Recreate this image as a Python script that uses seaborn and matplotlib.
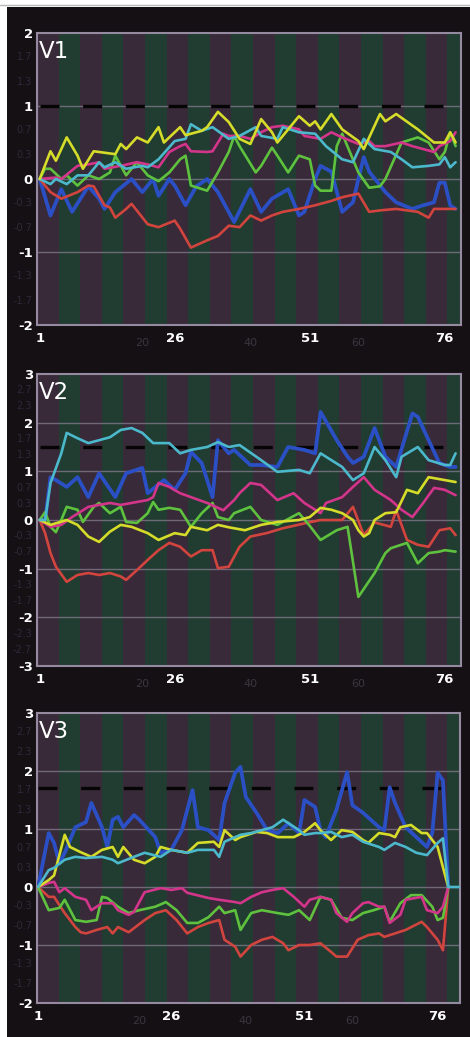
import numpy as np
import matplotlib
matplotlib.use("Agg")
import matplotlib.pyplot as plt
import matplotlib.transforms as mtransforms
from matplotlib.patches import Rectangle
import seaborn as sns

# ---------------- data ----------------
panel_titles = ["V1", "V2", "V3"]
x_major_ticks = [1, 26, 51, 76]
x_faint_ticks = [20, 40, 60]
ref_levels = [1.0, 1.5, 1.7]
y_limits = [(-2, 2), (-3, 3), (-2, 3)]
x_limits = [(0.5, 79), (0.5, 79), (0.8, 80.2)]

# V1
v1_yellow_x = [1,3,4,6,8,9,11,15,16,17,19,21,23,24,27,28,31,32,34,36,38,40,42,44,45,49,51,52,53,55,57,60,61,64,65,67,71,74,76,77,78]
v1_yellow_y = [0,0.38,0.25,0.57,0.32,0.14,0.38,0.34,0.48,0.41,0.57,0.5,0.71,0.5,0.71,0.6,0.66,0.71,0.92,0.78,0.55,0.48,0.82,0.64,0.5,0.86,0.73,0.79,0.68,0.89,0.68,0.52,0.41,0.89,0.79,0.89,0.68,0.5,0.5,0.64,0.5]
v1_pink_x = [1,4,5,8,10,12,13,16,19,21,23,25,27,28,29,32,33,35,36,38,40,42,44,46,49,50,53,55,57,60,62,63,65,68,70,72,74,75,77,78]
v1_pink_y = [0,0.02,0,0.18,0.2,0.23,0.14,0.18,0.23,0.2,0.16,0.37,0.45,0.48,0.38,0.37,0.38,0.62,0.59,0.59,0.55,0.64,0.71,0.73,0.68,0.59,0.55,0.64,0.57,0.48,0.52,0.45,0.45,0.5,0.45,0.41,0.37,0.45,0.52,0.64]
v1_cyan_x = [1,3,4,6,8,10,12,13,15,17,20,21,23,26,28,29,31,33,36,38,41,42,45,46,49,52,54,57,59,61,63,66,68,70,73,75,76,77,78]
v1_cyan_y = [0,-0.07,0,-0.07,0.05,0.05,0.23,0.16,0.23,0.14,0.18,0.16,0.27,0.52,0.55,0.75,0.66,0.71,0.55,0.59,0.71,0.59,0.55,0.71,0.64,0.62,0.45,0.27,0.23,0.55,0.41,0.37,0.27,0.16,0.18,0.2,0.3,0.16,0.23]
v1_green_x = [1,2,3,5,6,8,10,12,14,15,17,19,21,23,25,27,28,29,32,34,36,37,38,41,42,44,45,47,49,51,52,53,55,56,57,60,62,64,65,68,71,73,75,76,77,78]
v1_green_y = [0,0.14,0.14,0,0.05,-0.09,0.05,0,0.09,0.32,0.05,0.23,0.05,-0.03,0.09,0.27,0.32,-0.09,-0.16,0.09,0.37,0.59,0.45,0.09,0.18,0.43,0.32,0.09,0.32,0.27,-0.09,-0.16,-0.16,0.45,0.62,0.09,-0.12,-0.1,0,0.5,0.57,0.5,0.27,0.37,0.64,0.45]
v1_blue_x = [1,3,5,7,10,12,13,15,18,20,22,23,25,26,28,30,32,34,37,40,42,44,47,49,50,52,53,55,57,59,60,61,62,65,67,70,72,74,75,76,77,78]
v1_blue_y = [0,-0.5,-0.14,-0.45,-0.1,-0.27,-0.41,-0.18,0,-0.18,0,-0.23,0,-0.09,-0.36,-0.1,0,-0.18,-0.59,-0.14,-0.45,-0.27,-0.14,-0.5,-0.45,0,0.18,0.1,-0.45,-0.32,0,0.3,0.1,-0.18,-0.32,-0.41,-0.36,-0.32,-0.05,-0.05,-0.36,-0.41]
v1_red_x = [1,3,5,8,10,11,13,14,15,17,18,21,23,26,27,29,32,34,36,38,40,42,44,46,49,52,55,57,60,62,64,67,69,71,73,74,77,78]
v1_red_y = [0,-0.18,-0.27,-0.18,-0.09,-0.1,-0.36,-0.39,-0.53,-0.41,-0.34,-0.62,-0.66,-0.57,-0.68,-0.94,-0.84,-0.78,-0.64,-0.66,-0.5,-0.57,-0.5,-0.45,-0.41,-0.36,-0.3,-0.25,-0.2,-0.45,-0.43,-0.41,-0.43,-0.45,-0.53,-0.41,-0.41,-0.41]

# V2
v2_cyan_x = [1,2,3,5,6,8,10,12,14,16,18,20,22,25,27,29,32,34,36,38,42,45,49,51,53,57,59,61,63,65,67,68,71,73,76,77,78]
v2_cyan_y = [0,0,0.76,1.37,1.79,1.68,1.58,1.64,1.7,1.85,1.89,1.79,1.58,1.58,1.37,1.44,1.5,1.6,1.5,1.54,1.23,0.99,1.03,0.96,1.37,1.09,0.82,0.96,1.5,1.23,0.88,1.3,1.5,1.23,1.13,1.13,1.37]
v2_blue_x = [1,2,3,4,6,8,10,12,15,17,20,21,24,26,28,29,31,33,34,36,37,40,42,45,47,50,52,53,56,58,59,61,63,65,67,70,71,73,75,77,78]
v2_blue_y = [0,0,0.88,0.82,0.68,0.88,0.47,0.96,0.47,0.96,1.07,0.55,0.82,0.62,0.96,1.4,1.17,0.47,1.64,1.37,1.44,1.13,1.13,1.09,1.5,1.44,1.37,2.22,1.64,1.3,1.17,1.3,1.89,1.3,1.09,2.19,2.12,1.64,1.17,1.09,1.09]
v2_pink_x = [1,3,5,7,10,12,14,16,18,21,22,23,25,27,29,32,35,37,38,40,42,45,48,50,53,54,57,59,61,63,66,68,70,72,74,76,78]
v2_pink_y = [0,-0.14,-0.1,0.06,0.27,0.31,0.35,0.31,0.35,0.41,0.47,0.76,0.68,0.55,0.47,0.35,0.2,0.41,0.55,0.76,0.72,0.41,0.55,0.35,0.14,0.35,0.47,0.68,0.88,0.62,0.41,0.21,0.06,0.35,0.66,0.62,0.51]
v2_green_x = [1,2,3,4,5,6,8,9,11,12,14,16,17,19,21,22,23,25,27,29,31,33,34,36,37,40,42,45,49,51,53,56,58,60,63,65,66,69,71,73,75,76,78]
v2_green_y = [0,0.16,-0.14,-0.25,0,0.27,0.21,-0.04,0.27,0.35,0.14,0.27,-0.04,-0.06,0.14,0.37,0.21,0.25,0.21,-0.14,0.14,0.35,0.06,0,0.14,0.27,0,-0.1,0.14,-0.12,-0.41,-0.21,-0.14,-1.58,-1.09,-0.68,-0.58,-0.47,-0.89,-0.68,-0.65,-0.62,-0.65]
v2_yellow_x = [1,3,6,8,10,12,14,16,18,21,23,26,28,29,32,34,36,39,42,45,49,51,53,55,57,59,60,61,62,63,65,67,69,71,73,76,78]
v2_yellow_y = [0,-0.1,0,-0.1,-0.34,-0.45,-0.24,-0.1,-0.14,-0.27,-0.41,-0.27,-0.31,-0.14,-0.21,-0.1,-0.15,-0.21,-0.1,-0.04,0,0.06,0.25,0.21,0.14,0,-0.21,-0.34,-0.27,0,0.14,0.16,0.62,0.55,0.88,0.82,0.78]
v2_red_x = [1,2,3,4,6,8,10,12,14,16,17,19,21,23,25,27,29,31,33,34,36,38,40,43,46,50,53,57,59,61,63,66,67,69,71,73,75,77,78]
v2_red_y = [0,-0.27,-0.68,-0.96,-1.27,-1.13,-1.09,-1.13,-1.09,-1.16,-1.23,-1.03,-0.82,-0.62,-0.47,-0.55,-0.75,-0.62,-0.62,-0.99,-0.96,-0.55,-0.34,-0.27,-0.17,-0.07,0,0,0.27,-0.31,-0.05,-0.14,0.2,-0.41,-0.51,-0.55,-0.21,-0.17,-0.31]

# V3
v3_blue_x = [1,3,4,5,6,8,10,11,13,14,15,16,17,19,20,23,24,26,28,30,31,33,35,36,38,39,40,42,44,46,48,50,51,53,54,55,57,59,60,62,65,66,67,68,70,72,74,75,76,77,78]
v3_blue_y = [0,0.93,0.76,0.41,0.59,1.03,1.12,1.45,1.03,0.69,1.16,1.21,1.03,1.24,1.16,0.86,0.59,0.64,0.98,1.67,1.03,0.98,0.81,1.45,1.97,2.07,1.55,1.28,0.98,0.93,1.1,0.93,1.5,1.38,0.98,0.86,1.33,1.98,1.41,1.28,1.03,0.98,1.72,1.45,1.03,0.86,0.69,0.93,1.97,1.84,0]
v3_yellow_x = [1,3,4,6,7,9,11,13,15,16,17,19,21,23,24,26,29,31,34,35,36,38,39,42,44,46,49,51,53,54,56,58,60,62,63,65,67,68,69,71,73,74,76,77,78]
v3_yellow_y = [0,0.12,0.2,0.9,0.69,0.6,0.52,0.64,0.69,0.52,0.69,0.47,0.41,0.52,0.69,0.64,0.59,0.76,0.78,0.69,0.98,0.81,0.86,0.95,0.93,0.86,0.86,0.95,1.1,0.98,0.81,0.98,0.95,0.81,0.76,0.93,0.9,0.86,1.03,1.07,0.93,0.93,0.69,0.34,0]
v3_cyan_x = [1,3,4,6,8,10,13,15,16,19,21,24,26,29,31,34,35,36,39,41,43,45,47,48,50,51,53,54,56,58,60,62,65,66,68,70,72,74,76,77,78,80]
v3_cyan_y = [0,0.29,0.33,0.47,0.52,0.5,0.52,0.47,0.41,0.52,0.59,0.52,0.64,0.59,0.64,0.64,0.52,0.78,0.9,0.93,0.98,1.03,1.16,1.1,0.98,0.9,0.93,0.93,0.95,0.86,0.9,0.78,0.69,0.64,0.76,0.69,0.59,0.55,0.76,0.84,0,0]
v3_pink_x = [1,3,4,5,6,8,10,11,13,15,16,18,19,20,21,24,26,28,29,33,35,38,39,41,43,45,47,49,51,52,54,56,57,59,60,62,63,65,66,67,69,70,73,74,76,77,78]
v3_pink_y = [0,0.07,0.09,-0.09,-0.02,-0.17,-0.22,-0.4,-0.28,-0.28,-0.4,-0.48,-0.43,-0.26,-0.09,-0.02,-0.05,-0.02,-0.1,-0.19,-0.22,-0.26,-0.28,-0.17,-0.09,-0.05,-0.02,-0.17,-0.34,-0.22,-0.17,-0.22,-0.45,-0.6,-0.45,-0.28,-0.26,-0.34,-0.34,-0.62,-0.48,-0.22,-0.17,-0.4,-0.45,-0.34,0]
v3_green_x = [1,3,5,6,8,10,12,13,14,16,18,20,23,25,27,29,31,33,35,36,38,39,41,43,46,48,50,52,54,56,58,60,62,64,66,67,69,71,73,75,76,77,78]
v3_green_y = [0,-0.4,-0.36,-0.22,-0.57,-0.6,-0.57,-0.17,-0.19,-0.34,-0.45,-0.4,-0.34,-0.26,-0.4,-0.62,-0.62,-0.52,-0.34,-0.45,-0.4,-0.74,-0.45,-0.4,-0.45,-0.48,-0.4,-0.57,-0.17,-0.22,-0.53,-0.57,-0.45,-0.4,-0.34,-0.6,-0.28,-0.14,-0.14,-0.34,-0.57,-0.53,0]
v3_red_x = [1,3,4,6,8,9,10,12,14,15,16,18,19,21,23,25,27,29,31,33,35,36,38,39,41,43,45,47,48,50,52,54,56,57,59,61,63,65,66,68,70,73,74,76,77,78]
v3_red_y = [0,-0.17,-0.17,-0.45,-0.69,-0.78,-0.8,-0.74,-0.69,-0.8,-0.69,-0.78,-0.71,-0.57,-0.45,-0.4,-0.57,-0.8,-0.69,-0.62,-0.57,-0.91,-1.03,-1.2,-1.0,-0.91,-0.86,-0.97,-1.09,-1.0,-1.0,-0.97,-1.12,-1.2,-1.2,-0.91,-0.83,-0.8,-0.86,-0.8,-0.74,-0.6,-0.69,-0.91,-1.09,0]

# ---------------- styling ----------------
COL = {"yellow": "#d6dc2a", "pink": "#d2358a", "cyan": "#4cb8cc",
       "green": "#5ec23e", "blue": "#2b4fc4", "red": "#d2443e"}
panels = [
    [("blue", v1_blue_x, v1_blue_y), ("red", v1_red_x, v1_red_y), ("green", v1_green_x, v1_green_y),
     ("pink", v1_pink_x, v1_pink_y), ("cyan", v1_cyan_x, v1_cyan_y), ("yellow", v1_yellow_x, v1_yellow_y)],
    [("blue", v2_blue_x, v2_blue_y), ("red", v2_red_x, v2_red_y), ("green", v2_green_x, v2_green_y),
     ("pink", v2_pink_x, v2_pink_y), ("yellow", v2_yellow_x, v2_yellow_y), ("cyan", v2_cyan_x, v2_cyan_y)],
    [("blue", v3_blue_x, v3_blue_y), ("red", v3_red_x, v3_red_y), ("green", v3_green_x, v3_green_y),
     ("pink", v3_pink_x, v3_pink_y), ("yellow", v3_yellow_x, v3_yellow_y), ("cyan", v3_cyan_x, v3_cyan_y)],
]

sns.set_theme(style="dark")
plt.rcParams['font.family'] = ['DejaVu Sans']

W, H = 470, 1037
fig = plt.figure(figsize=(W / 100, H / 100), dpi=100)
fig.patch.set_facecolor("white")
fig.add_artist(Rectangle((7 / W, 0), 1, 1 - 7 / H, transform=fig.transFigure,
                         facecolor="#141014", edgecolor="none", zorder=0))
fig.add_artist(plt.Line2D([0, 1], [1 - 5 / H, 1 - 5 / H], transform=fig.transFigure,
                          color="#b8b8b8", lw=1))

boxes = [(37, 33, 424, 292), (37, 374, 424, 292), (37, 713, 423, 290)]
PURPLE, GREEN = "#382a38", "#213c31"

for i, ax_box in enumerate(boxes):
    l, t, w, h = ax_box
    ax = fig.add_axes([l / W, 1 - (t + h) / H, w / W, h / H])
    ax.set_facecolor(PURPLE)
    ax.set_xlim(*x_limits[i])
    ax.set_ylim(*y_limits[i])

    # alternating vertical bands (fixed pixel pitch, same in every panel)
    band = 21.6 / w
    for k in range(int(1 / band) + 1):
        ax.add_patch(Rectangle((k * band, 0), min(band, 1 - k * band), 1, transform=ax.transAxes,
                               facecolor=PURPLE if k % 2 == 0 else GREEN,
                               edgecolor="none", zorder=0))

    ylo, yhi = y_limits[i]
    for yv in range(ylo + 1, yhi):
        ax.axhline(yv, color="#8a8296", lw=1, alpha=0.7, zorder=1)

    # black dashed reference line
    ax.hlines(ref_levels[i], 1, 78, colors="#050505", lw=2.4,
              linestyles=[(0, (5.7, 7.1))], zorder=2)

    for name, xs, ys in panels[i]:
        lw = 2.7 if name == "blue" else 1.9
        sns.lineplot(x=xs, y=ys, ax=ax, color=COL[name], linewidth=lw,
                     legend=False, zorder=3)

    ax.set_xlabel("")
    ax.set_ylabel("")
    ax.grid(False)
    for s in ax.spines.values():
        s.set_visible(True)
        s.set_color("#958aa0")
        s.set_linewidth(1.5)

    ax.set_xticks(x_major_ticks)
    ax.set_xticklabels([str(v) for v in x_major_ticks])
    ax.set_yticks(list(range(ylo, yhi + 1)))
    ax.set_yticklabels([str(v) for v in range(ylo, yhi + 1)])
    ax.tick_params(axis="x", colors="#9a90a0", length=3, width=1, pad=2,
                   labelcolor="white", labelsize=9.5)
    ax.tick_params(axis="y", length=0, pad=3, labelcolor="white", labelsize=9.5)
    for lab in ax.get_xticklabels() + ax.get_yticklabels():
        lab.set_fontweight("bold")

    # faint secondary labels
    trans_x = mtransforms.blended_transform_factory(ax.transData, ax.transAxes)
    for v in x_faint_ticks:
        ax.text(v, -18 / h, str(v), transform=trans_x, ha="center", va="center",
                color="#3c3540", fontsize=8)
    trans_y = mtransforms.blended_transform_factory(ax.transAxes, ax.transData)
    for yv in range(ylo, yhi):
        for frac in (1 / 3, 2 / 3):
            val = yv + frac
            ax.text(-0.012, val, f"{val:.1f}", transform=trans_y, ha="right", va="center",
                    color="#30283a", fontsize=7)

    ax.text(0.005, 0.975, panel_titles[i], transform=ax.transAxes, ha="left", va="top",
            color="white", fontsize=16.5, zorder=5)

fig.savefig("out.png", dpi=100, facecolor=fig.get_facecolor())
